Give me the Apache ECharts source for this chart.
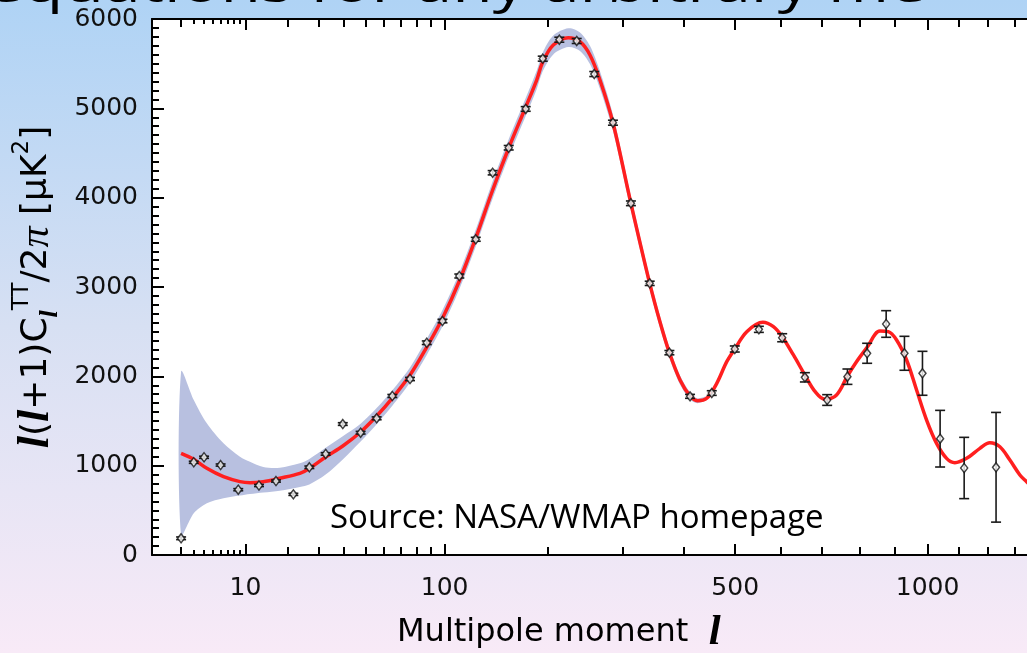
<!DOCTYPE html>
<html>
<head>
<meta charset="utf-8">
<script src="https://cdn.jsdelivr.net/npm/echarts@6/dist/echarts.min.js"></script>
<style>
  html, body { margin: 0; padding: 0; overflow: hidden; }
  #chart { width: 1100px; height: 653px; }
</style>
</head>
<body>
<div id="chart"></div>
<script>
// Multipole axis is drawn on a power-law scale: position grows as l^P
const P = 0.385;
const tx = l => Math.pow(l, P);

// Binned TT power spectrum measurements: multipole, l(l+1)C_l/2pi [uK^2], 1-sigma error
const pointL = [2, 3, 4, 6, 8.7, 12.7, 16.7, 21.5, 26.6, 32.5, 39.5, 47.7, 55.9, 64.7, 75.6, 86.9, 98.4,
  111.7, 125.7, 141.2, 156.9, 174.7, 193.7, 213.4, 235.3, 258.8, 285.3, 312.3, 342.2, 375.3, 412.1,
  453.1, 499.2, 550.4, 602.9, 656.9, 712.7, 765.9, 819.9, 874.2, 928.4, 983.8, 1040, 1119.7, 1231];
const pointV = [187, 1038, 1094, 1007, 731, 778, 828, 679, 982, 1131, 1466, 1369, 1530, 1780, 1970, 2376, 2619,
  3123, 3534, 4279, 4559, 4993, 5556, 5768, 5754, 5384, 4839, 3937, 3041, 2265, 1776,
  1813, 2306, 2526, 2432, 1989, 1735, 1996, 2258, 2586, 2258, 2034, 1302, 974, 982];
const pointErr = [15, 12, 12, 12, 12, 12, 12, 12, 14, 14, 15, 15, 16, 17, 18, 20, 20,
  22, 22, 24, 25, 26, 28, 28, 28, 28, 28, 26, 24, 24, 22,
  26, 34, 34, 45, 52, 60, 86, 112, 149, 190, 246, 317, 343, 614];

// Best-fit model spectrum
const modelL = [2, 3, 4.3, 6.4, 9, 10.85, 13.65, 17.7, 23.5, 26.6, 32.5, 39.5, 47.7, 55.9, 64.7, 75.6, 86.9,
  98.5, 111.7, 125.7, 141.2, 156.9, 174.7, 186.8, 193.7, 206.1, 224.5, 239.6, 252.9, 266.7, 285.3,
  312.3, 342.2, 359.3, 375.3, 394, 412.1, 425.6, 443.4, 462.9, 482.8, 499.2, 524.3, 559.1, 582.8,
  602.9, 629.3, 656.9, 682.3, 706.6, 737, 765.9, 790.5, 819.9, 856, 880.1, 904.8, 934.9, 965.5,
  996.8, 1028.6, 1061.1, 1088.5, 1128, 1173.8, 1208.9, 1244.8, 1281.3, 1318.4, 1343.6, 1380];
const modelV = [1138, 1071, 970, 876, 821, 809, 821, 859, 913, 968, 1097, 1220, 1377, 1556, 1757, 2015, 2328,
  2653, 3067, 3548, 4086, 4556, 5015, 5317, 5519, 5709, 5791, 5746, 5597, 5317, 4839,
  3937, 3041, 2608, 2265, 1959, 1780, 1727, 1754, 1922, 2164, 2306, 2500, 2605, 2556,
  2444, 2239, 2015, 1828, 1743, 1791, 2004, 2164, 2325, 2507, 2500, 2407, 2183, 1847,
  1511, 1250, 1082, 1033, 1082, 1194, 1257, 1212, 1063, 896, 821, 720];

// Cosmic-variance band around the model (first multipoles of modelL)
const bandLo = [224, 467, 579, 635, 666, 683, 700, 720, 761, 790, 900, 1070, 1270, 1465, 1670, 1930, 2240,
  2563, 2975, 3453, 3990, 4458, 4915, 5215, 5415, 5604, 5686, 5642, 5495, 5220, 4749,
  3857, 2971, 2543, 2205, 1909, 1740, 1700, 1734];
const bandHi = [2052, 1735, 1474, 1250, 1100, 1044, 985, 977, 1026, 1075, 1200, 1330, 1470, 1645, 1845, 2100, 2418,
  2745, 3160, 3643, 4185, 4655, 5115, 5420, 5623, 5814, 5896, 5850, 5700, 5415, 4929,
  4017, 3111, 2673, 2325, 2009, 1820, 1754, 1774];

// Tick marks on the multipole axis
const xLabelTicks = [10, 100, 500, 1000];
const xMidTicks = [2, 20, 30, 40, 50, 60, 70, 80, 90, 200, 300, 400, 600, 700, 800, 900, 1100, 1200, 1300, 1400];
const xSmallTicks = [3, 4, 5, 6, 7, 8, 9];

const X_MIN = 0.8, X_MAX = 16.6;
const PX_PER_UNIT = 57.5;

const chart = echarts.init(document.getElementById('chart'), null, { renderer: 'canvas' });

function xAxisDef(position, ticks, len, withLine, withLabel) {
  return {
    type: 'value', gridIndex: 0, position: position, min: X_MIN, max: X_MAX,
    axisLine: { show: withLine, onZero: false, lineStyle: { color: '#000', width: 2 } },
    axisTick: { show: true, inside: true, length: len, customValues: ticks.map(tx),
      lineStyle: { color: '#000', width: 2 } },
    axisLabel: withLabel ? {
      show: true, customValues: ticks.map(tx), margin: 21,
      fontFamily: 'DejaVu Sans', fontSize: 25, color: '#111',
      formatter: v => String(Math.round(Math.pow(v, 1 / P)))
    } : { show: false },
    splitLine: { show: false },
    minorTick: { show: false }
  };
}

const option = {
  animation: false,
  backgroundColor: {
    type: 'linear', x: 0, y: 0, x2: 0, y2: 1,
    colorStops: [
      { offset: 0, color: '#afd3f5' },
      { offset: 0.5, color: '#d7e0f3' },
      { offset: 1, color: '#f8eaf7' }
    ]
  },
  grid: {
    left: 152, top: 19, width: (X_MAX - X_MIN) * PX_PER_UNIT, height: 536,
    show: true, backgroundColor: '#ffffff', borderWidth: 0
  },
  xAxis: [
    xAxisDef('bottom', xLabelTicks, 11, true, true),
    xAxisDef('bottom', xMidTicks, 8, false, false),
    xAxisDef('bottom', xSmallTicks, 5, false, false),
    xAxisDef('top', xLabelTicks, 11, true, false),
    xAxisDef('top', xMidTicks, 8, false, false),
    xAxisDef('top', xSmallTicks, 5, false, false)
  ],
  yAxis: {
    type: 'value', min: 0, max: 6000, interval: 1000,
    axisLine: { show: true, lineStyle: { color: '#000', width: 2 } },
    axisTick: { show: true, inside: true, length: 12, lineStyle: { color: '#000', width: 2 } },
    minorTick: { show: true, splitNumber: 10, length: 7, lineStyle: { color: '#000', width: 2 } },
    splitLine: { show: false },
    axisLabel: { margin: 14, fontFamily: 'DejaVu Sans', fontSize: 25, color: '#111',
      formatter: v => String(v) },
    name: '{il|l}{n|(}{il|l}{n|+1)C}{sub|l}{sup|TT}{n|/2}{pi|\u03c0}{n| [\u03bcK}{sup|2}{n|]}',
    nameLocation: 'middle', nameRotate: 90, nameGap: 89,
    nameTextStyle: {
      color: '#000',
      rich: {
        n: { fontFamily: 'DejaVu Sans', fontSize: 36, lineHeight: 52, color: '#000' },
        il: { fontFamily: 'Liberation Serif', fontStyle: 'italic', fontWeight: 'bold', fontSize: 44, lineHeight: 52, color: '#000' },
        pi: { fontFamily: 'Liberation Serif', fontStyle: 'italic', fontSize: 42, lineHeight: 52, color: '#000' },
        sub: { fontFamily: 'Liberation Serif', fontStyle: 'italic', fontWeight: 'bold', fontSize: 26, lineHeight: 28, verticalAlign: 'bottom', color: '#000' },
        sup: { fontFamily: 'DejaVu Sans', fontSize: 23, lineHeight: 28, verticalAlign: 'top', color: '#000' }
      }
    }
  },
  graphic: [
    {
      type: 'text', left: 330, top: 502, z: 50,
      style: { text: 'Source: NASA/WMAP homepage', font: '33px "Open Sans"', fill: '#000' }
    },
    {
      type: 'text', x: 397, y: 633, z: 50,
      style: {
        text: '{n|Multipole moment  }{il|l}',
        verticalAlign: 'middle',
        rich: {
          n: { fontFamily: 'DejaVu Sans', fontSize: 32, fill: '#000' },
          il: { fontFamily: 'Liberation Serif', fontStyle: 'italic', fontWeight: 'bold', fontSize: 43, fill: '#000' }
        }
      }
    },
    {
      type: 'text', x: -14, y: -12, scaleY: 0.76, z: 50,
      style: { text: 'equations for any arbitrary me', font: '66px "Open Sans"', fill: '#000', verticalAlign: 'middle' }
    }
  ],
  series: [
    {
      // cosmic variance envelope
      type: 'custom', name: 'band', clip: true, silent: true, z: 1,
      data: [[tx(modelL[0]), modelV[0]]],
      renderItem: function (params, api) {
        const pts = [];
        for (let i = 0; i < bandHi.length; i++) pts.push(api.coord([tx(modelL[i]), bandHi[i]]));
        for (let i = bandLo.length - 1; i >= 0; i--) pts.push(api.coord([tx(modelL[i]), bandLo[i]]));
        return { type: 'polygon', shape: { points: pts, smooth: 0.3 }, style: { fill: '#b8c0e0' } };
      }
    },
    {
      type: 'line', name: 'model', z: 3, showSymbol: false, smooth: 0.35,
      data: modelL.map((l, i) => [tx(l), modelV[i]]),
      lineStyle: { color: '#ff1f1f', width: 3.5 }
    },
    {
      type: 'custom', name: 'errors', z: 4, clip: true,
      data: pointL.map((l, i) => [tx(l), pointV[i], pointErr[i]]),
      renderItem: function (params, api) {
        const x = api.value(0), y = api.value(1), e = api.value(2);
        const top = api.coord([x, y + e]);
        const bot = api.coord([x, y - e]);
        const hw = 5;
        const st = { stroke: '#1a1a1a', lineWidth: 1.6 };
        return {
          type: 'group',
          children: [
            { type: 'line', shape: { x1: top[0], y1: top[1], x2: bot[0], y2: bot[1] }, style: st },
            { type: 'line', shape: { x1: top[0] - hw, y1: top[1], x2: top[0] + hw, y2: top[1] }, style: st },
            { type: 'line', shape: { x1: bot[0] - hw, y1: bot[1], x2: bot[0] + hw, y2: bot[1] }, style: st }
          ]
        };
      }
    },
    {
      type: 'scatter', name: 'data', z: 5,
      data: pointL.map((l, i) => [tx(l), pointV[i]]),
      symbol: 'diamond', symbolSize: [7, 9],
      itemStyle: { color: '#ffffff', borderColor: '#111111', borderWidth: 1.5 }
    }
  ]
};

chart.setOption(option);
</script>
</body>
</html>
